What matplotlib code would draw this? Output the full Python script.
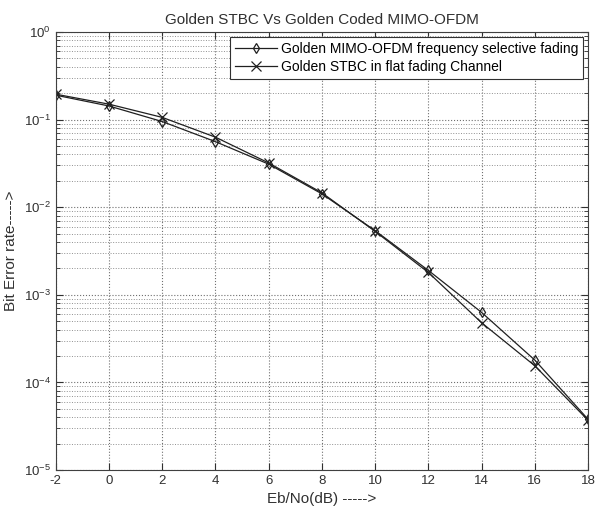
import numpy as np
import matplotlib
matplotlib.use('Agg')
import matplotlib.pyplot as plt
from matplotlib.ticker import LogLocator, FixedLocator

plt.rcParams['font.family'] = ['Liberation Sans', 'DejaVu Sans']
plt.rcParams['axes.unicode_minus'] = False

# Eb/No values (dB)
ebno = [-2, 0, 2, 4, 6, 8, 10, 12, 14, 16, 18]

# BER
ber_ofdm = [0.19, 0.143, 0.095, 0.056, 0.031, 0.0142, 0.0054, 0.0019, 0.00063, 0.00018, 3.8e-5]
ber_stbc = [0.195, 0.150, 0.106, 0.063, 0.032, 0.0146, 0.0053, 0.0018, 0.00048, 0.000155, 3.7e-5]

fig = plt.figure(figsize=(6, 5.12), dpi=100)
ax = fig.add_axes([0.093, 0.082, 0.887, 0.8555])

ax.semilogy(ebno, ber_ofdm, '-d', color='#202020', lw=0.9, ms=5, mfc='none', mew=0.9,
            label='Golden MIMO-OFDM frequency selective fading')
ax.semilogy(ebno, ber_stbc, '-x', color='#202020', lw=0.9, ms=7, mew=0.9,
            label='Golden STBC in flat fading Channel')

ax.set_xlim(-2, 18)
ax.set_ylim(1e-5, 1)
ax.xaxis.set_major_locator(FixedLocator(np.arange(-2, 19, 2)))
ax.yaxis.set_major_locator(LogLocator(base=10, numticks=10))
ax.yaxis.set_minor_locator(LogLocator(base=10, subs=np.arange(2, 10), numticks=10))

ax.grid(True, which='major', linestyle=':', color='#707070', lw=0.8)
ax.grid(True, which='minor', axis='y', linestyle=':', color='#909090', lw=0.7)
ax.tick_params(which='both', direction='in', top=True, right=True, labelsize=9.5, colors='#303030')
ax.tick_params(which='major', length=5)
ax.tick_params(which='minor', length=3)
for s in ax.spines.values():
    s.set_color('#404040')

ax.set_title('Golden STBC Vs Golden Coded MIMO-OFDM', fontsize=11, color='#303030')
ax.set_xlabel('Eb/No(dB) ----->', fontsize=11, color='#303030')
ax.set_ylabel('Bit Error rate----->', fontsize=11, color='#303030')

leg = ax.legend(loc='upper right', fontsize=10, fancybox=False, framealpha=1,
                edgecolor='#303030', borderaxespad=0.35, handlelength=3,
                handletextpad=0.3, borderpad=0.35, labelspacing=0.3)
leg.get_frame().set_linewidth(0.8)

fig.savefig('out.png')
